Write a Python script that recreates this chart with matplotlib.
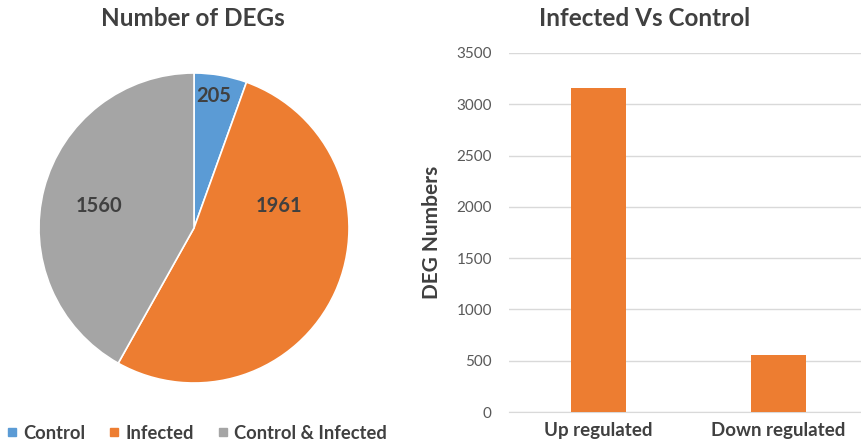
import matplotlib
matplotlib.use("Agg")
import matplotlib.pyplot as plt
from matplotlib.lines import Line2D

plt.rcParams['font.family'] = ['Lato', 'DejaVu Sans']

# Pie data
pie_labels = ["Control", "Infected", "Control & Infected"]
pie_values = [205, 1961, 1560]
pie_colors = ["#5B9BD5", "#ED7D31", "#A5A5A5"]

# Bar data
bar_categories = ["Up regulated", "Down regulated"]
bar_values = [3160, 555]
bar_color = "#ED7D31"
yticks = [0, 500, 1000, 1500, 2000, 2500, 3000, 3500]

text_color = "#404040"
tick_color = "#595959"

W, H = 861, 448
fig = plt.figure(figsize=(W / 100, H / 100), dpi=100)

def frac(x0, y_top, w, h):
    return [x0 / W, (H - y_top - h) / H, w / W, h / H]

# ---- Pie chart ----
ax1 = fig.add_axes(frac(39, 73, 310, 310))
wedges, _ = ax1.pie(pie_values, colors=pie_colors, startangle=90, counterclock=False,
                    wedgeprops=dict(edgecolor="white", linewidth=1.2))
ax1.set_xlim(-1, 1)
ax1.set_ylim(-1, 1)
ax1.set_aspect("equal")
label_pos = [(0.13, 0.85), (0.55, 0.14), (-0.61, 0.14)]
for v, (x, y) in zip(pie_values, label_pos):
    ax1.text(x, y, str(v), ha="center", va="center", fontsize=14.5,
             fontweight="bold", color=text_color)
fig.text(193 / W, 1 - 19 / H, "Number of DEGs", ha="center", va="center",
         fontsize=17.5, fontweight="bold", color=text_color)

handles = [Line2D([], [], marker="s", linestyle="none", markersize=6,
                  markerfacecolor=c, markeredgecolor=c) for c in pie_colors]
fig.legend(handles, pie_labels, loc="center left", bbox_to_anchor=(-1 / W, 1 - 433 / H),
           ncol=3, frameon=False, handlelength=0.6, handletextpad=0.3,
           columnspacing=1.3, labelcolor=text_color, borderaxespad=0,
           prop=dict(weight="bold", size=13.2))

# ---- Bar chart ----
ax2 = fig.add_axes(frac(508.5, 53, 360, 359))
x = range(len(bar_categories))
ax2.bar(x, bar_values, width=0.31, color=bar_color, zorder=3)
ax2.set_xlim(-0.5, 1.5)
ax2.set_ylim(0, 3500)
ax2.set_yticks(yticks)
ax2.set_xticks(list(x))
ax2.set_xticklabels(bar_categories, fontsize=13.5, fontweight="bold", color=text_color)
ax2.tick_params(axis="y", length=0, pad=12, labelsize=11, labelcolor=tick_color)
ax2.tick_params(axis="x", length=0, pad=7)
ax2.grid(axis="y", color="#D9D9D9", linewidth=1, zorder=0)
for s in ["top", "right", "left"]:
    ax2.spines[s].set_visible(False)
ax2.spines["bottom"].set_color("#D9D9D9")
ax2.set_ylabel("DEG Numbers", fontsize=15, fontweight="bold", color=text_color, labelpad=10)
fig.text(645 / W, 1 - 19 / H, "Infected Vs Control", ha="center", va="center",
         fontsize=17.5, fontweight="bold", color=text_color)

fig.savefig("out.png", dpi=100, facecolor="white")
